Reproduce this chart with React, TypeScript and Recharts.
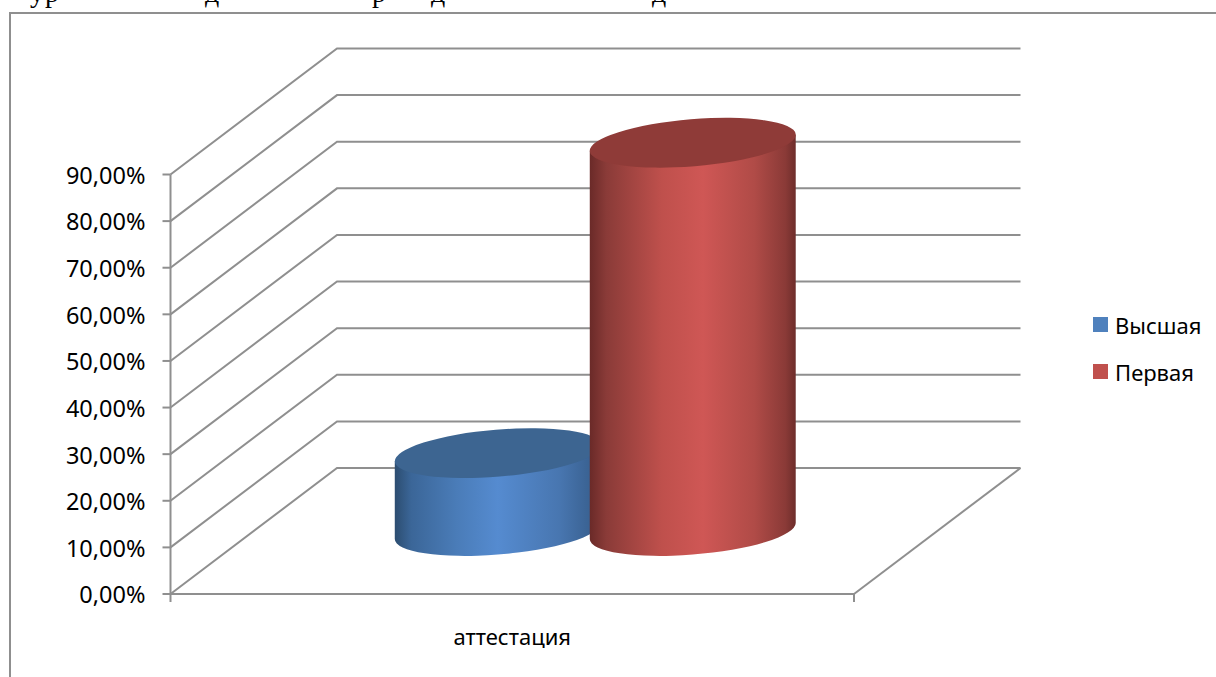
import { BarChart, Bar, XAxis, YAxis, CartesianGrid, Legend } from "recharts";

const categories = ["аттестация"];
const highest = [16.7];
const first = [83.3];
const yTicks = [0, 10, 20, 30, 40, 50, 60, 70, 80, 90];
const seriesNames = ["Высшая", "Первая"];

const chartData = categories.map((name, i) => ({
  name,
  highest: highest[i],
  first: first[i],
}));

const WIDTH = 1216;
const HEIGHT = 677;
const FONT = "'Noto Sans', sans-serif";
const LINE = "#8f8f8f";
const LINE_W = 2;
const DEPTH_X = 166.5;
const DEPTH_Y = -126;
const FLOOR_Y = 594;

// tilted cap of the cylinder
const RX = 103.3;
const RY = 23.5;
const TILT = 4.7;

const fmtPercent = (v: number) => `${v.toFixed(2).replace(".", ",")}%`;

function WallLine(props: any) {
  const { x1, x2, y1 } = props;
  const bx1 = x1 + DEPTH_X;
  const bx2 = x2 + DEPTH_X;
  const by = y1 + DEPTH_Y;
  const isFloor = Math.abs(y1 - FLOOR_Y) < 1;
  return (
    <g fill="none" stroke={LINE} strokeWidth={LINE_W}>
      <polyline points={`${x1},${y1} ${bx1},${by} ${bx2},${by}`} />
      {isFloor && (
        <>
          <line x1={bx2} y1={by} x2={x2} y2={y1} />
          <line x1={x1} y1={y1} x2={x1} y2={y1 + 8} />
          <line x1={x2} y1={y1} x2={x2} y2={y1 + 8} />
        </>
      )}
    </g>
  );
}

function Cylinder(props: any) {
  const { x, y, width, height, gradient, cap } = props;
  const rad = (TILT * Math.PI) / 180;
  const a2 = RX * RX;
  const b2 = RY * RY;
  const xExt = Math.sqrt(a2 * Math.cos(rad) ** 2 + b2 * Math.sin(rad) ** 2);
  const lift = ((a2 - b2) * Math.sin(rad) * Math.cos(rad)) / xExt;
  const cx = x + width / 2 + DEPTH_X / 2;
  const top = y + DEPTH_Y / 2;
  const bottom = top + height;
  const side = [
    `M${cx - xExt},${top + lift}`,
    `L${cx - xExt},${bottom + lift}`,
    `A${RX},${RY} ${-TILT} 0 0 ${cx + xExt},${bottom - lift}`,
    `L${cx + xExt},${top - lift}`,
    "Z",
  ].join(" ");
  return (
    <g>
      <path d={side} fill={`url(#${gradient})`} />
      <ellipse
        cx={cx}
        cy={top}
        rx={RX}
        ry={RY}
        fill={cap}
        transform={`rotate(${-TILT} ${cx} ${top})`}
      />
    </g>
  );
}

function LegendBox({ payload }: any) {
  return (
    <div style={{ fontFamily: FONT, fontSize: 22, color: "#000" }}>
      {(payload || []).map((item: any) => (
        <div
          key={item.value}
          style={{ display: "flex", alignItems: "center", height: 47 }}
        >
          <span
            style={{
              width: 15,
              height: 15,
              background: item.color,
              marginRight: 7,
            }}
          />
          {item.value}
        </div>
      ))}
    </div>
  );
}

const headerLetters = [
  { ch: "у", x: 30 },
  { ch: "р", x: 45 },
  { ch: "д", x: 205 },
  { ch: "р", x: 372 },
  { ch: "д", x: 431 },
  { ch: "д", x: 652 },
];

export default function App() {
  return (
    <div
      style={{
        position: "absolute",
        left: 0,
        top: 0,
        width: WIDTH,
        height: HEIGHT,
        overflow: "hidden",
        background: "#fff",
      }}
    >
      {headerLetters.map((l, i) => (
        <span
          key={i}
          style={{
            position: "absolute",
            left: l.x,
            top: -21,
            fontFamily: "'Liberation Serif', serif",
            fontSize: 28,
            lineHeight: "28px",
            color: "#000",
          }}
        >
          {l.ch}
        </span>
      ))}
      <div
        style={{
          position: "absolute",
          left: 9,
          top: 12,
          width: WIDTH,
          height: HEIGHT,
          borderLeft: `2px solid ${LINE}`,
          borderTop: `2px solid ${LINE}`,
        }}
      />
      <div style={{ position: "absolute", left: 0, top: 0 }}>
        <BarChart
          width={WIDTH}
          height={HEIGHT}
          data={chartData}
          barSize={206}
          barGap={-11}
          margin={{ top: 174.5, right: 239, bottom: 23, left: 90.5 }}
        >
          <defs>
            <linearGradient id="cylBlue" x1="0" y1="0" x2="1" y2="0">
              <stop offset="0" stopColor="#2c4d70" />
              <stop offset="0.08" stopColor="#3b6698" />
              <stop offset="0.3" stopColor="#4a7cb8" />
              <stop offset="0.5" stopColor="#558bd0" />
              <stop offset="0.8" stopColor="#4876b0" />
              <stop offset="1" stopColor="#355b88" />
            </linearGradient>
            <linearGradient id="cylRed" x1="0" y1="0" x2="1" y2="0">
              <stop offset="0" stopColor="#6a2a28" />
              <stop offset="0.08" stopColor="#8a3b38" />
              <stop offset="0.35" stopColor="#bf504c" />
              <stop offset="0.55" stopColor="#cf5755" />
              <stop offset="0.8" stopColor="#b04b47" />
              <stop offset="0.95" stopColor="#8a3a37" />
              <stop offset="1" stopColor="#6e2d2b" />
            </linearGradient>
          </defs>
          <CartesianGrid vertical={false} horizontal={(p: any) => <WallLine key={p.index} {...p} />} syncWithTicks />
          <XAxis
            dataKey="name"
            height={60}
            tickLine={false}
            tickMargin={29}
            axisLine={{ stroke: LINE, strokeWidth: LINE_W }}
            tick={{ fill: "#000", fontSize: 22, fontFamily: FONT }}
          />
          <YAxis
            width={80}
            domain={[0, 90]}
            ticks={yTicks}
            tickCount={yTicks.length}
            tickFormatter={fmtPercent}
            tickSize={8}
            tickMargin={17}
            axisLine={{ stroke: LINE, strokeWidth: LINE_W }}
            tickLine={{ stroke: LINE, strokeWidth: LINE_W }}
            tick={{ fill: "#000", fontSize: 23.5, fontFamily: FONT, dy: 1 }}
          />
          <Legend
            layout="vertical"
            align="right"
            verticalAlign="middle"
            content={<LegendBox />}
            wrapperStyle={{ position: "absolute", left: 1093, top: 301, right: "auto", width: 123 }}
          />
          <Bar
            dataKey="highest"
            name={seriesNames[0]}
            fill="#4f81bd"
            isAnimationActive={false}
            shape={(p: any) => <Cylinder {...p} gradient="cylBlue" cap="#3d6591" />}
          />
          <Bar
            dataKey="first"
            name={seriesNames[1]}
            fill="#c0504d"
            isAnimationActive={false}
            shape={(p: any) => <Cylinder {...p} gradient="cylRed" cap="#8f3b38" />}
          />
        </BarChart>
      </div>
    </div>
  );
}
